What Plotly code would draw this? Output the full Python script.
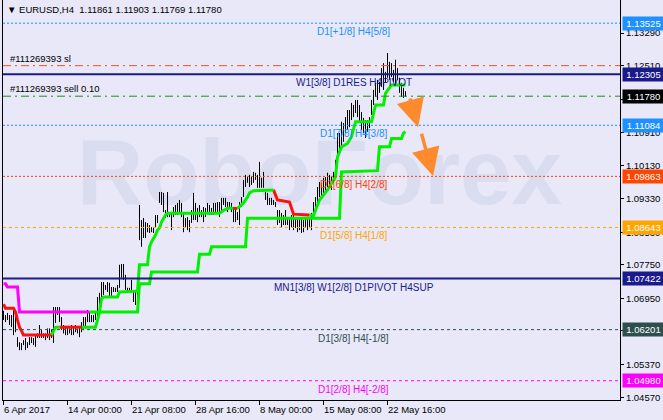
import plotly.graph_objects as go

# EURUSD H4 bars (high / low), one per bar, first bar 6 Apr 2017 16:00
bar_high = [
    1.0665, 1.0655, 1.0660, 1.0655, 1.0655, 1.0667, 1.0650, 1.0602, 1.0590, 1.0588,
    1.0595, 1.0600, 1.0590, 1.0602, 1.0602, 1.0600, 1.0607, 1.0611, 1.0631, 1.0619,
    1.0611, 1.0611, 1.0623, 1.0623, 1.0619, 1.0674, 1.0674, 1.0674, 1.0674, 1.0650,
    1.0631, 1.0626, 1.0626, 1.0623, 1.0631, 1.0626, 1.0631, 1.0623, 1.0626, 1.0638,
    1.0650, 1.0650, 1.0667, 1.0662, 1.0655, 1.0655, 1.0660, 1.0698, 1.0708, 1.0734,
    1.0734, 1.0727, 1.0734, 1.0732, 1.0722, 1.0722, 1.0720, 1.0727, 1.0775, 1.0777,
    1.0777, 1.0751, 1.0720, 1.0720, 1.0739, 1.0715, 1.0715, 1.0732, 1.0918, 1.0882,
    1.0887, 1.0877, 1.0875, 1.0870, 1.0865, 1.0865, 1.0894, 1.0894, 1.0949, 1.0949,
    1.0947, 1.0906, 1.0949, 1.0901, 1.0901, 1.0913, 1.0918, 1.0923, 1.0930, 1.0923,
    1.0899, 1.0887, 1.0889, 1.0882, 1.0906, 1.0947, 1.0923, 1.0911, 1.0918, 1.0906,
    1.0913, 1.0911, 1.0923, 1.0918, 1.0911, 1.0923, 1.0923, 1.0925, 1.0925, 1.0935,
    1.0935, 1.0935, 1.0925, 1.0925, 1.0923, 1.0913, 1.0911, 1.0901, 1.0925, 1.0937,
    1.0978, 1.0990, 1.0985, 1.0990, 1.0985, 1.0997, 1.0995, 1.0990, 1.1021, 1.0983,
    1.0997, 1.0949, 1.0947, 1.0935, 1.0935, 1.0930, 1.0925, 1.0906, 1.0906, 1.0899,
    1.0894, 1.0906, 1.0887, 1.0887, 1.0894, 1.0894, 1.0889, 1.0887, 1.0889, 1.0887,
    1.0882, 1.0887, 1.0889, 1.0889, 1.0899, 1.0925, 1.0937, 1.0961, 1.0973, 1.0971,
    1.0983, 1.0985, 1.0995, 1.0990, 1.0985, 1.0997, 1.1026, 1.1090, 1.1090, 1.1117,
    1.1114, 1.1128, 1.1145, 1.1145, 1.1162, 1.1157, 1.1169, 1.1169, 1.1157, 1.1140,
    1.1126, 1.1121, 1.1121, 1.1128, 1.1169, 1.1193, 1.1210, 1.1217, 1.1212, 1.1245,
    1.1257, 1.1236, 1.1281, 1.1260, 1.1257, 1.1241, 1.1265, 1.1245, 1.1222, 1.1210,
    1.1198, 1.1190,
]
bar_low = [
    1.0643, 1.0638, 1.0643, 1.0631, 1.0626, 1.0607, 1.0614, 1.0579, 1.0571, 1.0571,
    1.0583, 1.0571, 1.0576, 1.0583, 1.0588, 1.0583, 1.0579, 1.0600, 1.0600, 1.0600,
    1.0600, 1.0595, 1.0600, 1.0595, 1.0600, 1.0588, 1.0636, 1.0655, 1.0638, 1.0619,
    1.0611, 1.0607, 1.0607, 1.0611, 1.0607, 1.0607, 1.0614, 1.0611, 1.0602, 1.0614,
    1.0619, 1.0623, 1.0638, 1.0638, 1.0638, 1.0638, 1.0643, 1.0650, 1.0667, 1.0696,
    1.0703, 1.0715, 1.0710, 1.0698, 1.0698, 1.0710, 1.0710, 1.0710, 1.0720, 1.0744,
    1.0739, 1.0715, 1.0710, 1.0710, 1.0710, 1.0686, 1.0679, 1.0684, 1.0834, 1.0818,
    1.0839, 1.0839, 1.0853, 1.0851, 1.0853, 1.0851, 1.0865, 1.0875, 1.0923, 1.0918,
    1.0901, 1.0887, 1.0889, 1.0889, 1.0858, 1.0889, 1.0894, 1.0894, 1.0899, 1.0889,
    1.0853, 1.0865, 1.0858, 1.0853, 1.0875, 1.0882, 1.0882, 1.0877, 1.0889, 1.0889,
    1.0877, 1.0889, 1.0899, 1.0894, 1.0894, 1.0894, 1.0901, 1.0901, 1.0889, 1.0901,
    1.0918, 1.0913, 1.0901, 1.0911, 1.0901, 1.0877, 1.0877, 1.0882, 1.0870, 1.0913,
    1.0937, 1.0961, 1.0971, 1.0961, 1.0966, 1.0971, 1.0978, 1.0959, 1.0959, 1.0959,
    1.0959, 1.0930, 1.0918, 1.0918, 1.0918, 1.0918, 1.0913, 1.0870, 1.0875, 1.0863,
    1.0870, 1.0870, 1.0870, 1.0858, 1.0865, 1.0858, 1.0863, 1.0853, 1.0858, 1.0851,
    1.0853, 1.0863, 1.0858, 1.0865, 1.0858, 1.0887, 1.0906, 1.0913, 1.0937, 1.0935,
    1.0947, 1.0947, 1.0961, 1.0966, 1.0954, 1.0973, 1.0983, 1.1026, 1.1050, 1.1057,
    1.1069, 1.1090, 1.1097, 1.1104, 1.1121, 1.1128, 1.1138, 1.1128, 1.1117, 1.1097,
    1.1090, 1.1078, 1.1093, 1.1102, 1.1133, 1.1157, 1.1176, 1.1169, 1.1186, 1.1200,
    1.1193, 1.1210, 1.1222, 1.1217, 1.1224, 1.1212, 1.1205, 1.1217, 1.1186, 1.1176,
    1.1174, 1.1177,
]
last_ohlc = ["1.11861", "1.11903", "1.11769", "1.11780"]

time_idx = [0, 32, 64, 96, 128, 160, 192]
time_labels = ["6 Apr 2017", "14 Apr 00:00", "21 Apr 08:00", "28 Apr 16:00",
               "8 May 00:00", "15 May 08:00", "22 May 16:00"]

price_ticks = [1.13290, 1.12510, 1.11710, 1.10910, 1.10130, 1.09330,
               1.08530, 1.07750, 1.06950, 1.06170, 1.05370, 1.04570]

# level lines and their names
level_prices = [1.13525, 1.12305, 1.11084, 1.09863, 1.08643, 1.07422, 1.06201, 1.04980]
level_names = ["D1[+1/8] H4[5/8]", "W1[3/8] D1RES H4PIVOT", "D1[7/8] H4[3/8]",
               "D1[6/8] H4[2/8]", "D1[5/8] H4[1/8]", "MN1[3/8] W1[2/8] D1PIVOT H4SUP",
               "D1[3/8] H4[-1/8]", "D1[2/8] H4[-2/8]"]

# open order
order_prices = [1.12510, 1.11780]
order_names = ["#111269393 sl", "#111269393 sell 0.10"]
bid_price = 1.11780

# trailing lines (bar index, price), split by colour
fast_red = [
    ([0, 1, 5, 6, 7, 8, 9, 10, 25], [1.0681, 1.0671, 1.0671, 1.0662, 1.0643, 1.0626, 1.0617, 1.0607, 1.0607]),
    ([28, 39], [1.0626, 1.0626]),
    ([115, 117], [1.0910, 1.0910]),
    ([135, 137, 143, 145, 153], [1.0954, 1.0930, 1.0925, 1.0896, 1.0894]),
]
fast_green = [
    ([24, 25, 26, 28], [1.0607, 1.0617, 1.0626, 1.0626]),
    ([39, 46, 47, 48, 49, 50, 57, 58, 67, 68, 72, 73, 74, 76, 77, 78, 79, 81, 82, 108, 110, 112, 115],
     [1.0626, 1.0626, 1.0643, 1.0662, 1.0694, 1.0698, 1.0698, 1.0710, 1.0712, 1.0775, 1.0775, 1.0818,
      1.0830, 1.0846, 1.0858, 1.0863, 1.0877, 1.0894, 1.0898, 1.0898, 1.0905, 1.0910, 1.0910]),
    ([117, 120, 122, 123, 125, 135], [1.0910, 1.0923, 1.0937, 1.0947, 1.0952, 1.0954]),
    ([153, 155, 158, 162, 166, 167, 169, 172, 174, 176, 184, 186, 190, 191, 194, 201],
     [1.0894, 1.0893, 1.0930, 1.0954, 1.0985, 1.1033, 1.1057, 1.1065, 1.1081, 1.1117, 1.1117,
      1.1157, 1.1157, 1.1185, 1.1205, 1.1205]),
]
slow_magenta = ([0, 1, 2, 7, 8, 43], [1.0730, 1.0730, 1.0722, 1.0722, 1.0662, 1.0662])
slow_green = ([43, 67, 68, 73, 74, 97, 98, 103, 104, 121, 122, 168, 169, 187, 188, 193, 194, 199, 200, 201],
              [1.0662, 1.0662, 1.0730, 1.0730, 1.0758, 1.0758, 1.0800, 1.0800, 1.0818, 1.0818, 1.0886,
               1.0886, 1.0997, 1.1000, 1.1057, 1.1057, 1.1077, 1.1077, 1.1090, 1.1093])

# forecast arrows: (start, end)
arrow_idx = [(203.0, 207.3), (208.8, 214.8)]
arrow_price = [(1.1176, 1.1104), (1.1092, 1.0987)]

FONT = "Liberation Sans"
BG = "#e8e8f8"
NAVY = "#1a1a8c"
level_colors = ["#1e90ff", NAVY, "#1e90ff", "#ff4500", "#ffa500", NAVY, "#2f4f4f", "#ff00ff"]
level_dash = ["2px,2px", "solid", "2px,2px", "2px,2px", "3px,3px", "solid", "3px,3px", "3px,3px"]
level_width = [1, 2, 1, 1, 1, 2, 1, 1]
order_colors = ["#f0502d", "#228b22"]

fig = go.Figure()

# watermark
fig.add_trace(go.Scatter(
    x=[158], y=[1.0975], mode="text", text=["RoboForex"],
    textfont=dict(family=FONT, size=92, color="#dadcf0", weight="bold"),
    hoverinfo="skip", showlegend=False))

# bars as high-low sticks
bx, by = [], []
for i, (h, l) in enumerate(zip(bar_high, bar_low)):
    bx.extend([i, i, None])
    by.extend([h, l, None])
fig.add_trace(go.Scatter(x=bx, y=by, mode="lines", line=dict(color="black", width=1),
                         hoverinfo="skip", showlegend=False))

# trailing lines
for xs, ys in [slow_magenta]:
    fig.add_trace(go.Scatter(x=xs, y=ys, mode="lines", line=dict(color="#ff00ff", width=3),
                             hoverinfo="skip", showlegend=False))
for xs, ys in [slow_green]:
    fig.add_trace(go.Scatter(x=xs, y=ys, mode="lines", line=dict(color="#00f000", width=3),
                             hoverinfo="skip", showlegend=False))
for xs, ys in fast_red:
    fig.add_trace(go.Scatter(x=xs, y=ys, mode="lines", line=dict(color="#ff1010", width=3),
                             hoverinfo="skip", showlegend=False))
for xs, ys in fast_green:
    fig.add_trace(go.Scatter(x=xs, y=ys, mode="lines", line=dict(color="#00f000", width=3),
                             hoverinfo="skip", showlegend=False))

shapes = []
annotations = []

for p, name, c, d, w in zip(level_prices, level_names, level_colors, level_dash, level_width):
    shapes.append(dict(type="line", xref="paper", x0=0, x1=1, yref="y", y0=p, y1=p,
                       line=dict(color=c, width=w, dash=d), layer="above"))
    annotations.append(dict(x=175, y=p, xref="x", yref="y", text=name, showarrow=False,
                            xanchor="center", yanchor="top", yshift=-1,
                            font=dict(family=FONT, size=10, color=c)))
    annotations.append(dict(x=1, y=p, xref="paper", yref="y", text=f"{p:.5f}", showarrow=False,
                            xanchor="left", yanchor="middle", xshift=2, width=39, height=11,
                            bgcolor=c, borderpad=1,
                            font=dict(family=FONT, size=9.5, color="white")))

for p, name, c in zip(order_prices, order_names, order_colors):
    shapes.append(dict(type="line", xref="paper", x0=0, x1=1, yref="y", y0=p, y1=p,
                       line=dict(color=c, width=1, dash="8px,4px,2px,4px"), layer="above"))
    annotations.append(dict(x=0, y=p, xref="paper", yref="y", text=name, showarrow=False,
                            xanchor="left", yanchor="bottom", xshift=5, yshift=0,
                            font=dict(family=FONT, size=9.5, color="black")))

annotations.append(dict(x=1, y=bid_price, xref="paper", yref="y", text=f"{bid_price:.5f}",
                        showarrow=False, xanchor="left", yanchor="middle", xshift=2, width=39,
                        height=11, bgcolor="black", borderpad=1,
                        font=dict(family=FONT, size=9.5, color="white")))

for (x0, x1), (y0, y1) in zip(arrow_idx, arrow_price):
    annotations.append(dict(x=x1, y=y1, ax=x0, ay=y0, xref="x", yref="y", axref="x", ayref="y",
                            text="", showarrow=True, arrowhead=2, arrowsize=1.6, arrowwidth=3.5,
                            arrowcolor="#fd8a2c"))

for t, lab in zip(time_idx, time_labels):
    annotations.append(dict(x=t, y=0, xref="x", yref="paper", text=lab, showarrow=False,
                            xanchor="left", yanchor="top", xshift=-2, yshift=-2,
                            font=dict(family=FONT, size=9.5, color="black")))

annotations.append(dict(x=0, y=1, xref="paper", yref="paper",
                        text="\u25bc EURUSD,H4  " + " ".join(last_ohlc), showarrow=False,
                        xanchor="left", yanchor="top", xshift=2, yshift=-2,
                        font=dict(family=FONT, size=9.5, color="black")))

fig.update_layout(
    width=663, height=420,
    margin=dict(l=3, r=43, t=0, b=20),
    paper_bgcolor=BG, plot_bgcolor=BG,
    showlegend=False,
    shapes=shapes, annotations=annotations,
    xaxis=dict(range=[-0.25, 308.25], showgrid=False, zeroline=False, showline=True,
               linecolor="black", linewidth=1, ticks="outside", ticklen=4, tickcolor="black",
               tickvals=time_idx, showticklabels=False, fixedrange=True),
    yaxis=dict(range=[1.04519, 1.14079], side="right", showgrid=False, zeroline=False,
               showline=True, mirror=True, linecolor="black", linewidth=1,
               ticks="outside", ticklen=3, tickcolor="black",
               tickvals=price_ticks, ticktext=[f"{v:.5f}" for v in price_ticks],
               tickfont=dict(family=FONT, size=9.5, color="black"), fixedrange=True),
)

# drop the page's default body margin so the chart sits at the window origin
fig.write_html("out.html", config={"displayModeBar": False},
               post_script="document.body.style.margin='0px';")
